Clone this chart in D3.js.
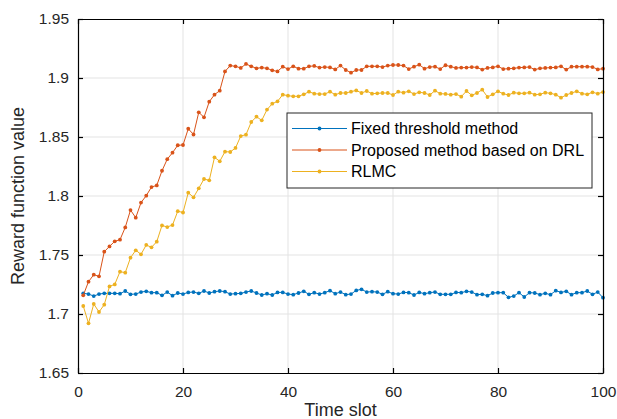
<!DOCTYPE html>
<html>
<head>
<meta charset="utf-8">
<script src="https://cdn.jsdelivr.net/npm/d3@7"></script>
<style>
  html, body { margin: 0; padding: 0; background: #fff; }
  svg { display: block; font-family: "Liberation Sans", Arial, Helvetica, sans-serif; }
</style>
</head>
<body>
<svg id="chart" width="617" height="419"></svg>
<script>
// Reward per time slot for the three strategies
const timeSlots = d3.range(1, 101);

const fixedThreshold = [
  1.7175,1.7169,1.7152,1.7169,1.7175,1.7175,1.7175,1.7172,1.7195,1.7167,
  1.7169,1.7186,1.7192,1.7181,1.7181,1.7158,1.7186,1.7155,1.7178,1.7169,
  1.7183,1.7186,1.7175,1.7195,1.7178,1.7189,1.7195,1.7189,1.7169,1.7172,
  1.7175,1.7186,1.7195,1.7178,1.7161,1.7172,1.7161,1.7183,1.7183,1.7169,
  1.7164,1.7178,1.7192,1.7167,1.7181,1.7169,1.7181,1.7198,1.7172,1.7186,
  1.7164,1.7169,1.7200,1.7209,1.7186,1.7189,1.7186,1.7167,1.7189,1.7172,
  1.7169,1.7183,1.7181,1.7161,1.7183,1.7172,1.7181,1.7186,1.7167,1.7167,
  1.7167,1.7183,1.7181,1.7192,1.7186,1.7164,1.7167,1.7155,1.7178,1.7181,
  1.7181,1.7141,1.7152,1.7181,1.7144,1.7181,1.7178,1.7164,1.7175,1.7164,
  1.7198,1.7183,1.7192,1.7164,1.7181,1.7181,1.7195,1.7167,1.7186,1.7138
];

const proposedDRL = [
  1.7158,1.7274,1.7333,1.7319,1.7528,1.7573,1.7616,1.7630,1.7734,1.7881,
  1.7816,1.7944,1.8003,1.8076,1.8090,1.8214,1.8312,1.8367,1.8430,1.8432,
  1.8570,1.8521,1.8709,1.8667,1.8799,1.8859,1.8893,1.9056,1.9105,1.9099,
  1.9085,1.9119,1.9099,1.9082,1.9088,1.9082,1.9065,1.9056,1.9096,1.9076,
  1.9099,1.9079,1.9079,1.9099,1.9102,1.9088,1.9093,1.9090,1.9073,1.9105,
  1.9068,1.9045,1.9068,1.9068,1.9099,1.9099,1.9099,1.9093,1.9105,1.9110,
  1.9110,1.9105,1.9076,1.9096,1.9113,1.9079,1.9093,1.9096,1.9076,1.9108,
  1.9096,1.9085,1.9088,1.9088,1.9093,1.9090,1.9071,1.9085,1.9090,1.9099,
  1.9076,1.9079,1.9082,1.9088,1.9090,1.9093,1.9071,1.9082,1.9085,1.9088,
  1.9090,1.9099,1.9071,1.9096,1.9096,1.9096,1.9096,1.9093,1.9073,1.9079
];

const rlmc = [
  1.7068,1.6921,1.7085,1.7017,1.7079,1.7234,1.7251,1.7359,1.7350,1.7477,
  1.7540,1.7506,1.7585,1.7565,1.7613,1.7751,1.7737,1.7754,1.7871,1.7860,
  1.8028,1.7989,1.8065,1.8144,1.8133,1.8328,1.8294,1.8376,1.8373,1.8407,
  1.8508,1.8520,1.8627,1.8672,1.8641,1.8732,1.8782,1.8802,1.8859,1.8850,
  1.8845,1.8845,1.8862,1.8884,1.8867,1.8864,1.8864,1.8884,1.8859,1.8873,
  1.8873,1.8884,1.8895,1.8873,1.8890,1.8867,1.8870,1.8873,1.8873,1.8856,
  1.8884,1.8876,1.8887,1.8864,1.8879,1.8873,1.8856,1.8893,1.8867,1.8865,
  1.8859,1.8864,1.8842,1.8890,1.8853,1.8873,1.8901,1.8839,1.8862,1.8887,
  1.8867,1.8856,1.8876,1.8870,1.8870,1.8876,1.8859,1.8862,1.8876,1.8870,
  1.8859,1.8833,1.8856,1.8873,1.8887,1.8867,1.8862,1.8879,1.8867,1.8881
];

const seriesNames = ["Fixed threshold method", "Proposed method based on DRL", "RLMC"];
const seriesColors = ["#0072BD", "#D95319", "#EDB120"];
const xTicks = [0, 20, 40, 60, 80, 100];
const yTicks = [1.65, 1.7, 1.75, 1.8, 1.85, 1.9, 1.95];
const xLabel = "Time slot";
const yLabel = "Reward function value";

const series = [fixedThreshold, proposedDRL, rlmc].map((vals, i) => ({
  name: seriesNames[i],
  color: seriesColors[i],
  points: vals.map((v, j) => ({ t: timeSlots[j], v }))
}));

const svg = d3.select("#chart");
const plot = { left: 78, right: 603, top: 19, bottom: 373 };

const x = d3.scaleLinear().domain([0, 100]).range([plot.left, plot.right]);
const y = d3.scaleLinear().domain([1.65, 1.95]).range([plot.bottom, plot.top]);

// grid
const grid = svg.append("g");
grid.selectAll("line.gx").data(xTicks.slice(1, -1)).join("line")
  .attr("x1", d => x(d)).attr("x2", d => x(d))
  .attr("y1", plot.top).attr("y2", plot.bottom)
  .attr("stroke", "#e3e3e3").attr("stroke-width", 1);
grid.selectAll("line.gy").data(yTicks.slice(1, -1)).join("line")
  .attr("x1", plot.left).attr("x2", plot.right)
  .attr("y1", d => y(d)).attr("y2", d => y(d))
  .attr("stroke", "#e3e3e3").attr("stroke-width", 1);

// series lines and markers
const line = d3.line().x(d => x(d.t)).y(d => y(d.v));
series.forEach(s => {
  svg.append("path").datum(s.points)
    .attr("d", line)
    .attr("fill", "none")
    .attr("stroke", s.color)
    .attr("stroke-width", 1);
  svg.append("g").selectAll("circle").data(s.points).join("circle")
    .attr("cx", d => x(d.t)).attr("cy", d => y(d.v))
    .attr("r", 1.9).attr("fill", s.color);
});

// axes (ticks inside, box style)
const tickLen = 5;
const fmt = d => (d === 1.7 || d === 1.8 || d === 1.9) ? d.toFixed(1) : String(d);

const xAxis = svg.append("g").attr("transform", `translate(0,${plot.bottom})`)
  .call(d3.axisBottom(x).tickValues(xTicks).tickSizeInner(-tickLen).tickSizeOuter(0).tickPadding(13));
const xAxisTop = svg.append("g").attr("transform", `translate(0,${plot.top})`)
  .call(d3.axisTop(x).tickValues(xTicks).tickSizeInner(-tickLen).tickSizeOuter(0).tickFormat(""));
const yAxis = svg.append("g").attr("transform", `translate(${plot.left},0)`)
  .call(d3.axisLeft(y).tickValues(yTicks).tickFormat(fmt).tickSizeInner(-tickLen).tickSizeOuter(0).tickPadding(9));
const yAxisRight = svg.append("g").attr("transform", `translate(${plot.right},0)`)
  .call(d3.axisRight(y).tickValues(yTicks).tickSizeInner(-tickLen).tickSizeOuter(0).tickFormat(""));

[xAxis, xAxisTop, yAxis, yAxisRight].forEach(g => {
  g.select(".domain").attr("stroke", "#000").attr("stroke-width", 1.2);
  g.selectAll(".tick line").attr("stroke", "#000").attr("stroke-width", 1.2);
  g.selectAll(".tick text").attr("fill", "#262626")
    .style("font-family", "'Liberation Sans', Arial, sans-serif").style("font-size", "15.5px");
});

// axis titles
svg.append("text")
  .attr("x", (plot.left + plot.right) / 2).attr("y", 416)
  .attr("text-anchor", "middle").attr("fill", "#262626")
  .style("font-size", "18px").text(xLabel);
svg.append("text")
  .attr("transform", `translate(24,${(plot.top + plot.bottom) / 2}) rotate(-90)`)
  .attr("text-anchor", "middle").attr("fill", "#262626")
  .style("font-size", "18px").text(yLabel);

// legend
const lg = { x: 287, y: 113, w: 305, h: 75 };
const legend = svg.append("g");
legend.append("rect")
  .attr("x", lg.x).attr("y", lg.y).attr("width", lg.w).attr("height", lg.h)
  .attr("fill", "#fff").attr("stroke", "#262626").attr("stroke-width", 1);
const rowY = d3.scalePoint().domain(seriesNames).range([128.5, 171.5]);
series.forEach(s => {
  const yy = rowY(s.name);
  legend.append("line")
    .attr("x1", lg.x + 5).attr("x2", lg.x + 60)
    .attr("y1", yy).attr("y2", yy)
    .attr("stroke", s.color).attr("stroke-width", 1);
  legend.append("circle")
    .attr("cx", lg.x + 32.5).attr("cy", yy).attr("r", 1.9).attr("fill", s.color);
  legend.append("text")
    .attr("x", lg.x + 64).attr("y", yy).attr("dy", "0.36em")
    .attr("fill", "#000").style("font-size", "16px").text(s.name);
});
</script>
</body>
</html>
